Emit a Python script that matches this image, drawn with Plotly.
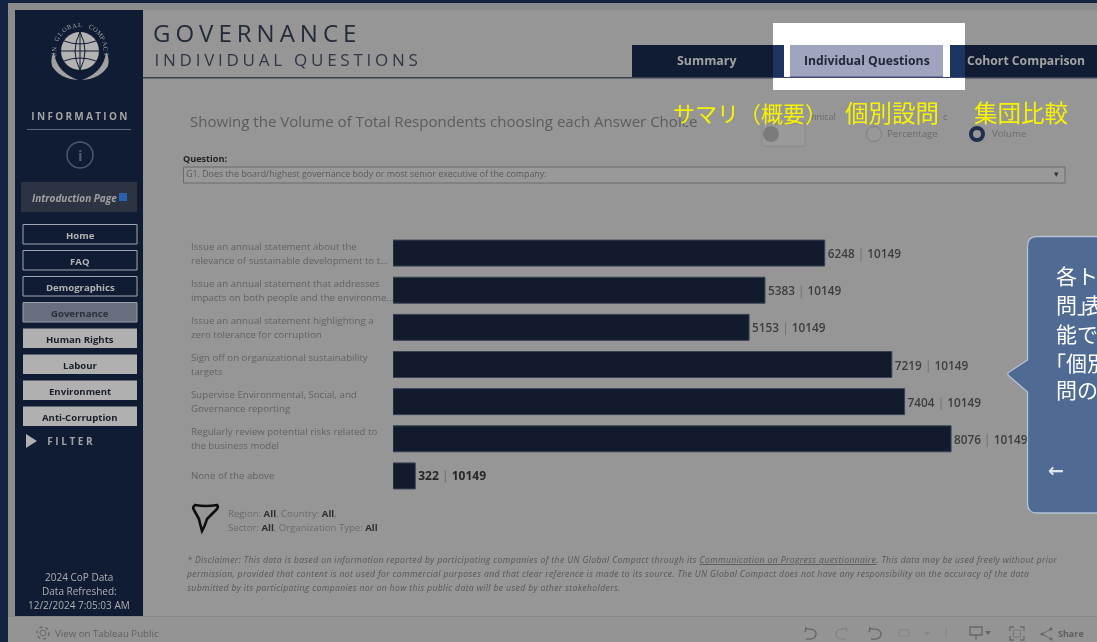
import math
import plotly.graph_objects as go

W, H = 1097, 642

# ---------- data ----------
answers = [
    "Issue an annual statement about the<br>relevance of sustainable development to t...",
    "Issue an annual statement that addresses<br>impacts on both people and the environme...",
    "Issue an annual statement highlighting a<br>zero tolerance for corruption",
    "Sign off on organizational sustainability<br>targets",
    "Supervise Environmental, Social, and<br>Governance reporting",
    "Regularly review potential risks related to<br>the business model",
    "None of the above",
]
volumes = [6248, 5383, 5153, 7219, 7404, 8076, 322]
total_respondents = 10149
nav_items = ["Home", "FAQ", "Demographics", "Governance", "Human Rights", "Labour", "Environment", "Anti-Corruption"]
disclaimer_lines = [
    "* Disclaimer: This data is based on information reported by participating companies of the UN Global Compact through its <u>Communication on Progress questionnaire</u>. This data may be used freely without prior",
    "permission, provided that content is not used for commercial purposes and that clear reference is made to its source. The UN Global Compact does not have any responsibility on the accuracy of the data",
    "submitted by its participating companies nor on how this public data will be used by other stakeholders.",
]
sidebar_footer = ["2024 CoP Data", "Data Refreshed:", "12/2/2024 7:05:03 AM"]

# ---------- palette ----------
BG = "#969696"
EDGE = "#8c8c8c"
NAVY = "#0f1c34"
BAR = "#121b2e"
FONT = "Open Sans"
CJK = "Noto Sans CJK JP"


def X(p):
    return p / W


def Y(p):
    return 1 - p / H


def rect(x0, y0, x1, y1, fill, line=None, lw=1, layer="below"):
    return dict(type="rect", xref="paper", yref="paper", x0=X(x0), x1=X(x1), y0=Y(y0), y1=Y(y1),
                fillcolor=fill, line=dict(color=line or fill, width=lw if line else 0), layer=layer)


def circle(cx, cy, r, fill, line=None, lw=1, layer="below", dash="solid"):
    return dict(type="circle", xref="paper", yref="paper", x0=X(cx - r), x1=X(cx + r), y0=Y(cy - r), y1=Y(cy + r),
                fillcolor=fill, line=dict(color=line or fill, width=lw if line else 0, dash=dash), layer=layer)


def path(points, fill="rgba(0,0,0,0)", line=None, lw=1, layer="below"):
    """points: list of SVG commands with pixel tuples, converted to paper coordinates"""
    parts = []
    for cmd in points:
        if isinstance(cmd, str):
            parts.append(cmd)
        else:
            parts.append(f"{X(cmd[0]):.5f},{Y(cmd[1]):.5f}")
    return dict(type="path", xref="paper", yref="paper", path=" ".join(parts), fillcolor=fill,
                line=dict(color=line or "rgba(0,0,0,0)", width=lw if line else 0), layer=layer)


def note(x, y, text, size=10, color="#5f5f5f", anchor="left", font=FONT, angle=0, align=None):
    # a left-anchored annotation box carries a small inner pad, taken off here
    px = x - 2 if anchor == "left" else x
    return dict(xref="paper", yref="paper", x=X(px), y=Y(y), text=text, showarrow=False, xanchor=anchor,
                yanchor="middle", align=align or anchor, textangle=angle,
                font=dict(size=size, color=color, family=font))


shapes, notes = [], []

# page frame
shapes += [
    rect(0, 0, W, 3, "#14233f"),
    rect(0, 0, 8, H, "#14233f"),
    rect(8, 3, W, 10, EDGE),
    rect(8, 3, 15, 617, EDGE),
    rect(143, 77, W, 78.5, "#3a4252"),
    rect(8, 616.5, W, 642, "#949494"),
    rect(8, 616, W, 617, "#868686"),
]

# highlighted tab area
shapes += [
    rect(773, 23, 965, 90, "#ffffff"),
    rect(632, 45, 773, 77, NAVY),
    rect(773, 45, 784, 77, "#1d3461"),
    rect(790, 45, 943, 77, "#a0a5bf"),
    rect(790, 76.5, 943, 78, "#3d4a78"),
    rect(950, 45, 965, 77, "#1d3461"),
    rect(965, 45, W, 77, NAVY),
    rect(773, 77, 790, 78, "#3d4a78"),
    rect(943, 77, 965, 78, "#3d4a78"),
]
notes += [
    note(707, 61, "<b>Summary</b>", 12.4, "#a3a3a3", "center"),
    note(867, 61, "<b>Individual Questions</b>", 12.2, "#22283a", "center"),
    note(1025.5, 61, "<b>Cohort Comparison</b>", 12.2, "#a3a3a3", "center"),
]

# sidebar
shapes.append(rect(15, 10, 143, 616, NAVY))
shapes += [
    circle(80, 51, 19, "#b3b3b3"),
    path(["M", (61, 51), "L", (99, 51)], line=NAVY, lw=1),
    path(["M", (64, 41), "Q", (80, 47), (96, 41)], line=NAVY, lw=1),
    path(["M", (64, 61), "Q", (80, 55), (96, 61)], line=NAVY, lw=1),
    path(["M", (80, 32), "Q", (70, 51), (80, 70)], line=NAVY, lw=1),
    path(["M", (80, 32), "Q", (90, 51), (80, 70)], line=NAVY, lw=1),
    path(["M", (80, 32), "L", (80, 70)], line=NAVY, lw=1),
    path(["M", (54, 52), "Q", (56, 72), (78, 80), "Q", (60, 79), (52, 66), "Q", (50, 58), (54, 52), "Z"], fill="#a0a0a0"),
    path(["M", (106, 52), "Q", (104, 72), (82, 80), "Q", (100, 79), (108, 66), "Q", (110, 58), (106, 52), "Z"], fill="#a0a0a0"),
    rect(27, 129, 131, 130, "#5f6879"),
    circle(80, 155, 13, "rgba(0,0,0,0)", "#505969", 1.5),
    rect(21, 182, 137, 212, "#2c3444"),
    rect(119, 193, 127, 201, "#2a62b0"),
]
ring = "UN GLOBAL COMPACT"
for i, ch in enumerate(ring):
    a = -98 + 196 * i / (len(ring) - 1)
    notes.append(note(80 + 26.5 * math.sin(math.radians(a)), 51 - 26.5 * math.cos(math.radians(a)), ch, 6.5,
                      "#a8a8a8", "center", "Liberation Serif", angle=a))
notes += [
    note(80, 116, "<b>INFORMATION</b>", 10, "#a3a3a3", "center"),
    note(80, 155, "<b>i</b>", 15, "#505969", "center"),
    note(74, 198, "<b><i>Introduction Page</i></b>", 10, "#a0a0a0", "center"),
]
for i, name in enumerate(nav_items):
    top = 224.5 + 26 * i
    if i < 3:
        shapes.append(rect(23, top, 137, top + 19.5, NAVY, "#a0a6b2", 1))
        col = "#b3b3b3"
    elif i == 3:
        shapes.append(rect(23, top, 137, top + 19.5, "#696e7f", "#9aa0ad", 1))
        col = "#2a2f3c"
    else:
        shapes.append(rect(23, top, 137, top + 19.5, "#b0b0b0"))
        col = "#1a1f2c"
    notes.append(note(80, top + 11, f"<b>{name}</b>", 9.6, col, "center"))
shapes.append(path(["M", (26, 434), "L", (37, 441), "L", (26, 448), "Z"], fill="#b0b0b0"))
notes.append(note(71, 441, "<b>FILTER</b>", 10, "#a3a3a3", "center"))
for line_text, y in zip(sidebar_footer, [577, 591, 605]):
    notes.append(note(79, y, line_text, 10, "#b0b0b0", "center"))

# header
notes += [
    note(256.5, 33, "GOVERNANCE", 24, "#232a38", "center"),
    note(287.5, 59.5, "INDIVIDUAL QUESTIONS", 17, "#2f3644", "center"),
    note(190, 121, "Showing the Volume of Total Respondents choosing each Answer Choice", 15.05, "#5c5c5c"),
    note(183, 158, "<b>Question:</b>", 9.1, "#222222"),
    note(186, 174, "G1. Does the board/highest governance body or most senior executive of the company:", 8.9, "#5a5a5a"),
    note(811, 116, "nnical", 9, "#6a6a6a"),
    note(943, 116, "c", 9, "#6a6a6a"),
    note(887, 133.5, "Percentage", 9.7, "#6a6a6a"),
    note(992, 133.5, "Volume", 9.7, "#6a6a6a"),
    note(1056, 174, "▾", 9, "#333333", "center"),
]
shapes += [
    rect(183.5, 167, 1065, 183, "#999999", "#6b6b6b", 1),
    rect(762, 124, 805, 146, "#9a9a9a", "#8a8a8a", 1),
    circle(771, 134, 8, "#7b7b7b"),
    circle(874, 134, 7.5, "#999999", "#7f7f7f", 1),
    circle(977, 134, 6, "#979797", "#1e2e4c", 4),
]

# filter summary
shapes.append(path(["M", (195, 505), "Q", (206, 507), (217, 505), "Q", (219, 507), (216, 510),
                    "L", (207, 519), "Q", (205, 526), (202, 531), "Q", (200, 524), (199, 519),
                    "L", (194, 510), "Q", (192, 507), (195, 505), "Z"], line="#0d0d0d", lw=2.6))
notes += [
    note(228, 513, 'Region: <b><span style="color:#2f2f2f">All</span></b>, Country: <b><span style="color:#2f2f2f">All</span></b>,', 9.6, "#6b6b6b"),
    note(228, 527, 'Sector: <b><span style="color:#2f2f2f">All</span></b>, Organization Type: <b><span style="color:#2f2f2f">All</span></b>', 9.6, "#6b6b6b"),
]

# disclaimer: centred on each line's span, the letter spacing grows it both ways
for line_text, y, cx in zip(disclaimer_lines, [560, 574, 588], [622, 607, 404]):
    notes.append(note(cx, y, f"<i>{line_text}</i>", 8.6, "#565656", "center"))

# toolbar
notes += [
    note(55, 633, "View on Tableau Public", 9.7, "#5f5f5f"),
    note(1071, 633, "<b>Share</b>", 9, "#5f5f5f", "center"),
]
shapes += [
    circle(43, 633, 3, "rgba(0,0,0,0)", "#6a6a6a", 1),
    circle(43, 633, 6, "rgba(0,0,0,0)", "#6a6a6a", 1.5, dash="dot"),
    path(["M", (806, 627), "L", (805, 632), "M", (805, 629), "Q", (816, 628), (816, 634), "Q", (816, 640), (806, 639)], line="#666666", lw=1.3),
    path(["M", (846, 627), "L", (847, 632), "M", (847, 629), "Q", (836, 628), (836, 634), "Q", (836, 640), (846, 639)], line="#848484", lw=1.3),
    path(["M", (870, 627), "L", (869, 632), "M", (869, 629), "Q", (881, 628), (881, 634), "Q", (881, 640), (871, 639)], line="#666666", lw=1.3),
    rect(899, 630, 909, 636, "rgba(0,0,0,0)", "#848484", 1),
    path(["M", (924, 632), "L", (930, 632), "L", (927, 636), "Z"], fill="#848484"),
    path(["M", (946, 628), "L", (946, 638)], line="#848484", lw=1),
    rect(970, 627, 982, 635, "rgba(0,0,0,0)", "#666666", 1.3),
    path(["M", (976, 635), "L", (976, 640)], line="#666666", lw=1.3),
    path(["M", (985, 631), "L", (991, 631), "L", (988, 635), "Z"], fill="#666666"),
    path(["M", (1010, 631), "L", (1010, 627), "L", (1014, 627), "M", (1020, 627), "L", (1024, 627), "L", (1024, 631),
          "M", (1024, 636), "L", (1024, 640), "L", (1020, 640), "M", (1014, 640), "L", (1010, 640), "L", (1010, 636)],
         line="#6a6a6a", lw=1.3),
    rect(1013.5, 630, 1020.5, 637, "rgba(0,0,0,0)", "#7a7a7a", 1),
    circle(1042, 634, 1.5, "#666666"),
    circle(1051, 629, 1.5, "#666666"),
    circle(1051, 639, 1.5, "#666666"),
    path(["M", (1042, 634), "L", (1051, 629), "M", (1042, 634), "L", (1051, 639)], line="#666666", lw=1),
]

# callout on top of the bars
CALLOUT = "#4f6b94"
shapes.append(path([
    "M", (1104, 236.5), "L", (1037, 236.5), "Q", (1027.5, 236.5), (1027.5, 246), "L", (1027.5, 360),
    "L", (1009, 372), "Q", (1006.5, 374), (1009, 376), "L", (1027.5, 392), "L", (1027.5, 503),
    "Q", (1027.5, 513), (1037, 513), "L", (1104, 513), "Z",
], fill=CALLOUT, line="#b4c2d6", lw=1.3, layer="above"))
notes += [
    note(1056, 275, "各ト", 21, "#ffffff", font=CJK),
    note(1056, 304, "問」", 21, "#ffffff", font=CJK),
    note(1084, 304, "表", 21, "#ffffff", font=CJK),
    note(1056, 333, "能で", 21, "#ffffff", font=CJK),
    note(1045, 362, "「個別", 21, "#ffffff", font=CJK),
    note(1056, 389, "問の", 21, "#ffffff", font=CJK),
    note(1056, 470, "<b>←</b>", 19, "#dfe6ef", "center", "DejaVu Sans"),
]

# yellow captions
notes += [
    note(750, 112, "サマリ（概要）", 22, "#f7f300", "center", CJK),
    note(891.5, 112, "個別設問", 23.5, "#f7f300", "center", CJK),
    note(1020.5, 112, "集団比較", 23.5, "#f7f300", "center", CJK),
]

# answer labels follow the category axis; one annotation per line to keep the 14 px line pitch
for a in answers:
    lines = a.split("<br>")
    for k, line_text in enumerate(lines):
        shift = 0 if len(lines) == 1 else (7 if k == 0 else -7)
        notes.append(dict(xref="paper", yref="y", x=X(189), y=a, text=line_text, showarrow=False, xanchor="left",
                          yanchor="middle", align="left", yshift=shift,
                          font=dict(size=9.7, color="#626262", family=FONT)))

bar_text = [f'{v} <span style="color:#777777">|</span> {total_respondents}' for v in volumes]
bars = go.Bar(
    x=volumes,
    y=answers,
    orientation="h",
    marker=dict(color=BAR, line=dict(color="#3a4356", width=1)),
    text=bar_text,
    textposition="outside",
    cliponaxis=False,
    textfont=dict(family=FONT, size=[11.8] * 6 + [12], color=["#3d3d3d"] * 6 + ["#272727"],
                  weight=[600] * 6 + [700]),
    hoverinfo="skip",
)

fig = go.Figure(bars)
fig.update_layout(
    width=W,
    height=H,
    autosize=False,
    margin=dict(l=0, r=0, t=0, b=0),
    paper_bgcolor=BG,
    plot_bgcolor="rgba(0,0,0,0)",
    showlegend=False,
    bargap=0.3,
    xaxis=dict(domain=[X(393), 1], range=[0, 10188], visible=False, fixedrange=True),
    yaxis=dict(domain=[Y(494.5), Y(234.5)], type="category", categoryorder="array", categoryarray=answers,
               autorange="reversed", visible=False, fixedrange=True),
    shapes=shapes,
    annotations=notes,
)

post = """
document.documentElement.style.overflow='hidden';
document.body.style.margin='0';
document.body.style.overflow='hidden';
var spacing={'GOVERNANCE':'5px','INDIVIDUAL QUESTIONS':'3.75px','INFORMATION':'2.3px','FILTER':'2.6px'};
function applySpacing(){
  document.querySelectorAll('.annotation-text').forEach(function(t){
    var txt=t.textContent.trim();
    var s=spacing[txt];
    if(s){t.style.letterSpacing=s;}
    if(txt.indexOf('permission,')===0||txt.indexOf('submitted by')===0||txt.indexOf('* Disclaimer')===0){t.style.letterSpacing='0.38px';}
  });
  document.querySelector('.plotly-graph-div').style.filter='blur(0.7px)';
}
applySpacing();
setTimeout(applySpacing,100);
"""
fig.write_html("out.html", config=dict(displayModeBar=False, staticPlot=True), post_script=post)
